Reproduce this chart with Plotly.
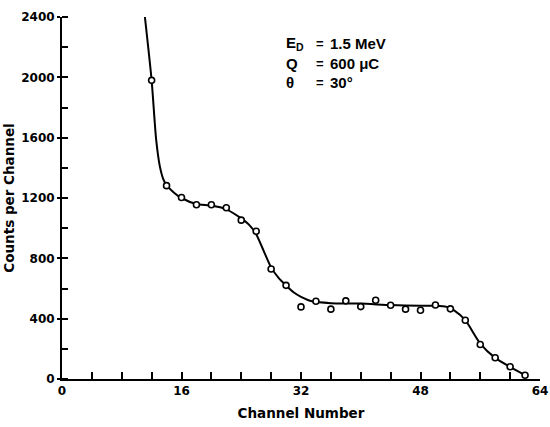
import plotly.graph_objects as go

# measured data points (open circles)
channel = [12, 14, 16, 18, 20, 22, 24, 26, 28, 30, 32, 34, 36, 38, 40, 42, 44, 46, 48, 50, 52, 54, 56, 58, 60, 62]
counts = [1980, 1282, 1203, 1155, 1155, 1135, 1053, 980, 729, 621, 478, 515, 463, 518, 480, 522, 489, 463, 456, 491, 465, 390, 229, 141, 81, 25]

# hand-drawn smooth curve through the data
fit_channel = [11.1, 12, 12.6, 13.1, 13.6, 14, 15, 16, 18, 20, 22, 24, 25, 26, 27, 28, 29, 30, 31, 32, 33.5, 36, 40, 44, 48, 50, 51.5, 52.5, 54, 56, 58, 60, 62]
fit_counts = [2400, 1980, 1590, 1410, 1320, 1285, 1235, 1200, 1160, 1150, 1125, 1065, 1025, 960, 850, 740, 670, 620, 575, 545, 515, 503, 500, 490, 485, 485, 478, 455, 390, 235, 140, 80, 25]

x_ticks = [0, 16, 32, 48, 64]
y_ticks = [0, 400, 800, 1200, 1600, 2000, 2400]

FONT = "DejaVu Sans"
NOTE_FONT = "Liberation Sans"
fig = go.Figure()
fig.add_trace(go.Scatter(x=fit_channel, y=fit_counts, mode="lines",
                         line=dict(color="black", width=2, shape="spline", smoothing=0.6),
                         showlegend=False, hoverinfo="skip", cliponaxis=False))
fig.add_trace(go.Scatter(x=channel, y=counts, mode="markers",
                         marker=dict(symbol="circle", size=6, color="white",
                                     line=dict(color="black", width=1.6)),
                         showlegend=False, cliponaxis=False))

fig.update_layout(
    width=550, height=427,
    margin=dict(l=62, r=10, t=17, b=48),
    paper_bgcolor="white", plot_bgcolor="white",
    font=dict(family=FONT, size=12, color="black", weight="bold"),
    xaxis=dict(range=[0, 64], tickvals=x_ticks, ticks="inside", ticklen=7, tickwidth=1.5,
               tickcolor="black", showgrid=False, zeroline=False, automargin=False,
               showline=True, linecolor="black", linewidth=2,
               minor=dict(dtick=4, tick0=0, ticks="inside", ticklen=7, tickwidth=1.5, tickcolor="black", showgrid=False),
               tickfont=dict(family=FONT, size=12, weight="bold"),
               title=dict(text="Channel Number", standoff=11,
                          font=dict(family=FONT, size=13.5, weight="bold"))),
    yaxis=dict(range=[0, 2400], tickvals=y_ticks, ticks="outside", ticklen=3, tickwidth=1.5,
               tickcolor="black", showgrid=False, zeroline=False, automargin=False,
               showline=True, linecolor="black", linewidth=2,
               minor=dict(dtick=200, tick0=0, ticks="inside", ticklen=6, tickwidth=1.5, tickcolor="black", showgrid=False),
               tickfont=dict(family=FONT, size=12, weight="bold"),
               title=dict(text="Counts per Channel", standoff=3,
                          font=dict(family=FONT, size=13.5, weight="bold"))),
)

labels = [("E<sub>D</sub>", "1.5 MeV", 43), ("Q", "600 μC", 63), ("θ", "30°", 82)]
for left, right, ypix in labels:
    fig.add_annotation(x=284, y=ypix, xref="paper", yref="paper", text=left,
                       showarrow=False, xanchor="left", yanchor="middle",
                       font=dict(family=NOTE_FONT, size=15, weight="bold"))
    fig.add_annotation(x=314, y=ypix, xref="paper", yref="paper", text="=",
                       showarrow=False, xanchor="left", yanchor="middle",
                       font=dict(family=NOTE_FONT, size=13, weight="bold"))
    fig.add_annotation(x=328, y=ypix, xref="paper", yref="paper", text=right,
                       showarrow=False, xanchor="left", yanchor="middle",
                       font=dict(family=NOTE_FONT, size=15, weight="bold"))

# convert pixel positions to paper coords
for a in fig.layout.annotations:
    px, py = a.x, a.y
    a.x = (px - 62) / (550 - 62 - 10)
    a.y = 1 - (py - 17) / (427 - 17 - 48)

fig.write_html("out.html")
